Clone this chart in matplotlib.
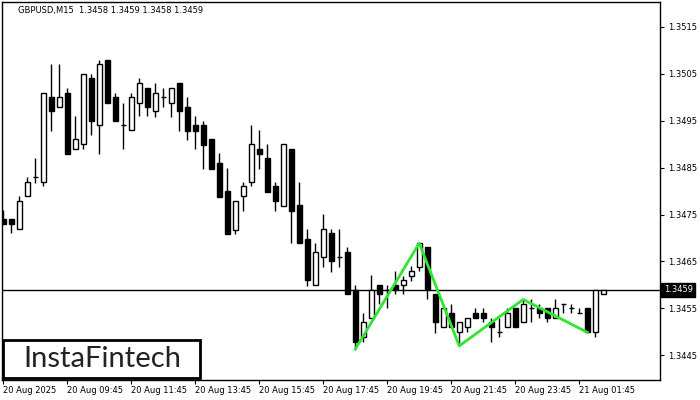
import numpy as np
import matplotlib
matplotlib.use('Agg')
import matplotlib.pyplot as plt
from matplotlib.patches import Rectangle
from matplotlib.transforms import blended_transform_factory

# GBPUSD M15 candles
opens = [1.34741, 1.34741, 1.34719, 1.34790, 1.34830, 1.34819, 1.35000, 1.34979, 1.35009, 1.34889,
         1.34900, 1.35041, 1.34940, 1.35080, 1.35000, 1.34940, 1.34930, 1.34989, 1.35019, 1.34970,
         1.35000, 1.34989, 1.35030, 1.34979, 1.34940, 1.34940, 1.34911, 1.34859, 1.34800, 1.34718,
         1.34789, 1.34819, 1.34890, 1.34870, 1.34810, 1.34769, 1.34890, 1.34770, 1.34699, 1.34599,
         1.34659, 1.34710, 1.34659, 1.34670, 1.34589, 1.34490, 1.34529, 1.34599, 1.34589, 1.34599,
         1.34599, 1.34620, 1.34639, 1.34680, 1.34580, 1.34510, 1.34540, 1.34499, 1.34510, 1.34540,
         1.34540, 1.34520, 1.34499, 1.34510, 1.34550, 1.34520, 1.34550, 1.34550, 1.34550, 1.34529,
         1.34559, 1.34550, 1.34540, 1.34550, 1.34499, 1.34580]
highs = [1.34760, 1.34741, 1.34790, 1.34830, 1.34871, 1.35009, 1.35071, 1.35071, 1.35019, 1.34960,
         1.35049, 1.35049, 1.35080, 1.35080, 1.35009, 1.34989, 1.35009, 1.35041, 1.35019, 1.35030,
         1.35019, 1.35019, 1.35030, 1.35000, 1.34960, 1.34950, 1.34911, 1.34881, 1.34849, 1.34780,
         1.34820, 1.34940, 1.34930, 1.34900, 1.34820, 1.34900, 1.34890, 1.34820, 1.34719, 1.34689,
         1.34751, 1.34719, 1.34719, 1.34680, 1.34600, 1.34540, 1.34621, 1.34599, 1.34599, 1.34630,
         1.34620, 1.34640, 1.34689, 1.34680, 1.34580, 1.34550, 1.34559, 1.34520, 1.34529, 1.34550,
         1.34550, 1.34530, 1.34530, 1.34550, 1.34550, 1.34569, 1.34569, 1.34559, 1.34550, 1.34569,
         1.34559, 1.34559, 1.34550, 1.34550, 1.34590, 1.34590]
lows = [1.34730, 1.34710, 1.34719, 1.34790, 1.34818, 1.34810, 1.34929, 1.34979, 1.34880, 1.34889,
        1.34889, 1.34919, 1.34880, 1.34989, 1.34949, 1.34889, 1.34930, 1.34960, 1.34960, 1.34959,
        1.34979, 1.34959, 1.34929, 1.34909, 1.34889, 1.34848, 1.34848, 1.34788, 1.34709, 1.34709,
        1.34758, 1.34810, 1.34848, 1.34799, 1.34758, 1.34769, 1.34689, 1.34689, 1.34598, 1.34599,
        1.34639, 1.34628, 1.34639, 1.34580, 1.34463, 1.34479, 1.34529, 1.34559, 1.34550, 1.34580,
        1.34580, 1.34609, 1.34629, 1.34569, 1.34498, 1.34510, 1.34510, 1.34470, 1.34499, 1.34529,
        1.34520, 1.34479, 1.34490, 1.34510, 1.34510, 1.34520, 1.34520, 1.34529, 1.34520, 1.34529,
        1.34540, 1.34540, 1.34540, 1.34499, 1.34489, 1.34580]
closes = [1.34730, 1.34730, 1.34780, 1.34819, 1.34830, 1.35009, 1.34970, 1.35000, 1.34880, 1.34911,
          1.35049, 1.34949, 1.35071, 1.34989, 1.34949, 1.34940, 1.35000, 1.35030, 1.34979, 1.35009,
          1.35000, 1.35019, 1.34970, 1.34929, 1.34929, 1.34899, 1.34848, 1.34788, 1.34709, 1.34780,
          1.34810, 1.34900, 1.34880, 1.34799, 1.34780, 1.34900, 1.34758, 1.34689, 1.34611, 1.34670,
          1.34719, 1.34650, 1.34659, 1.34580, 1.34479, 1.34520, 1.34589, 1.34580, 1.34589, 1.34591,
          1.34610, 1.34629, 1.34689, 1.34591, 1.34520, 1.34550, 1.34510, 1.34520, 1.34529, 1.34529,
          1.34529, 1.34510, 1.34499, 1.34540, 1.34510, 1.34559, 1.34550, 1.34540, 1.34529, 1.34550,
          1.34559, 1.34550, 1.34540, 1.34499, 1.34590, 1.34590]

# zigzag pattern (bar index, price)
zz_bars = [44, 52, 57, 65, 73]
zz_prices = [1.34463, 1.34689, 1.34470, 1.34569, 1.34499]

last_price = 1.3459
x_tick_bars = [0, 8, 16, 24, 32, 40, 48, 56, 64, 72]
x_tick_labels = ['20 Aug 2025', '20 Aug 09:45', '20 Aug 11:45', '20 Aug 13:45', '20 Aug 15:45',
                 '20 Aug 17:45', '20 Aug 19:45', '20 Aug 21:45', '20 Aug 23:45', '21 Aug 01:45']
y_ticks = [1.3445, 1.3455, 1.3465, 1.3475, 1.3485, 1.3495, 1.3505, 1.3515]
header = 'GBPUSD,M15  1.3458 1.3459 1.3458 1.3459'

plt.rcParams['font.family'] = ['DejaVu Sans']

fig = plt.figure(figsize=(7, 4), dpi=100)
ax = fig.add_axes([2 / 700, 20 / 400, 658 / 700, 378 / 400])

x = np.arange(len(opens))
o = np.array(opens)
c = np.array(closes)
body_w = 0.6

# wicks
ax.vlines(x, lows, highs, color='black', linewidth=1, zorder=2)

# bodies
up = c > o
down = c < o
flat = c == o
ax.bar(x[up], (c - o)[up], bottom=o[up], width=body_w, facecolor='white',
       edgecolor='black', linewidth=1, zorder=3)
ax.bar(x[down], (o - c)[down], bottom=c[down], width=body_w, facecolor='black',
       edgecolor='black', linewidth=1, zorder=3)
ax.hlines(o[flat], x[flat] - body_w / 2, x[flat] + body_w / 2, color='black', linewidth=1, zorder=3)

# current price line
ax.axhline(last_price, color='black', linewidth=1, zorder=1)

# pattern line
ax.plot(zz_bars, zz_prices, color='#2ee62e', linewidth=2, zorder=4)

ax.set_xlim(-0.16, 82.1)
ax.set_ylim(1.343973, 1.352033)

ax.yaxis.tick_right()
ax.set_yticks(y_ticks)
ax.set_yticklabels([f'{v:.4f}' for v in y_ticks])
ax.set_xticks(x_tick_bars)
ax.set_xticklabels(x_tick_labels, ha='left')
ax.tick_params(axis='y', direction='out', length=3, width=0.8, pad=3, labelsize=6)
ax.tick_params(axis='x', direction='out', length=3, width=0.8, pad=1.5, labelsize=6)
for s in ax.spines.values():
    s.set_linewidth(1)

# last price tag
tr = blended_transform_factory(ax.transAxes, ax.transData)
ax.text(1.006, last_price, '1.3459', transform=tr, ha='left', va='center', fontsize=6,
        color='white', bbox=dict(facecolor='black', edgecolor='black', pad=1.8), zorder=5)

# header
fig.text(18 / 700, 1 - 10 / 400, header, ha='left', va='center', fontsize=6, color='black')

# logo box
logo = Rectangle((3 / 700, 22 / 400), 197 / 700, 38 / 400, transform=fig.transFigure,
                 facecolor='white', edgecolor='black', linewidth=2, zorder=10)
fig.add_artist(logo)
fig.text(102 / 700, 41 / 400, 'InstaFintech', ha='center', va='center', fontsize=21,
         family='Lato', color='#222222', zorder=11)

fig.savefig('out.png', dpi=100)
